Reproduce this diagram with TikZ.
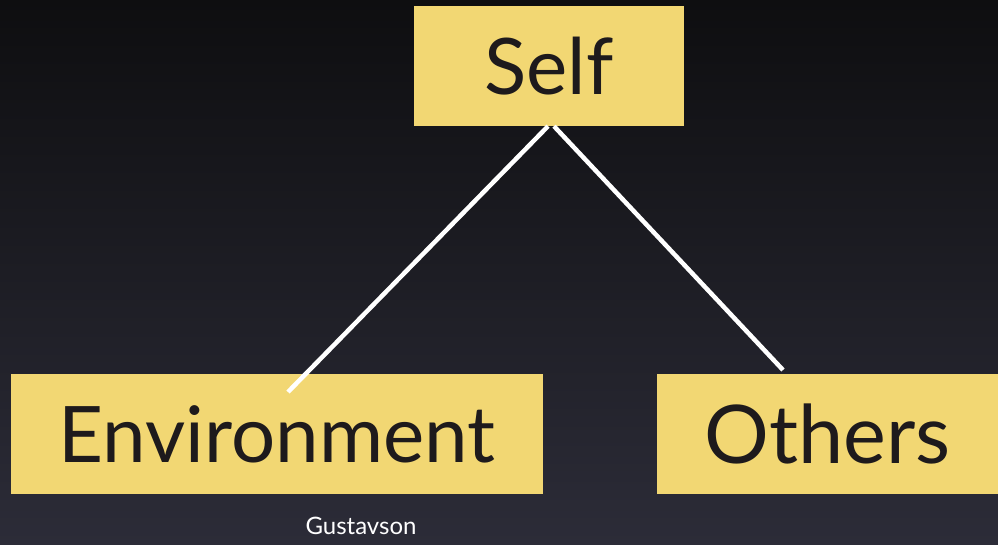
\documentclass[tikz,border=0pt]{standalone}
\usepackage{fontspec}
\setmainfont{Lato}
\definecolor{boxyellow}{HTML}{F2D773}
\definecolor{boxtext}{HTML}{1E1A1C}
\definecolor{bgtop}{HTML}{0E0E10}
\definecolor{bgbot}{HTML}{2C2C38}
\begin{document}
\begin{tikzpicture}[x=1pt,y=-1pt,
  box/.style={fill=boxyellow, draw=none, inner sep=0pt, text=boxtext,
    font=\fontsize{78}{80}\selectfont},
  link/.style={draw=white, line width=4.5pt}]
\shade[top color=bgtop, bottom color=bgbot] (0,0) rectangle (998,545);
\useasboundingbox (0,0) rectangle (998,545);
\node[box, minimum width=270pt, minimum height=120pt] (self) at (549,66) {Self};
\node[box, minimum width=532pt, minimum height=120pt] (env) at (277,434) {Environment};
\node[box, minimum width=341pt, minimum height=120pt] (oth) at (827.5,434) {\fontsize{81}{82}\selectfont Others};
\coordinate (envend) at (288,392);
\coordinate (othend) at (783,370);
\draw[link] ([xshift=-1pt]self.south) -- (envend);
\draw[link] ([xshift=5pt]self.south) -- (othend);
\node[text=white, font=\fontsize{24}{26}\selectfont, inner sep=0pt] (cite) at (361,526) {Gustavson};
\end{tikzpicture}
\end{document}
